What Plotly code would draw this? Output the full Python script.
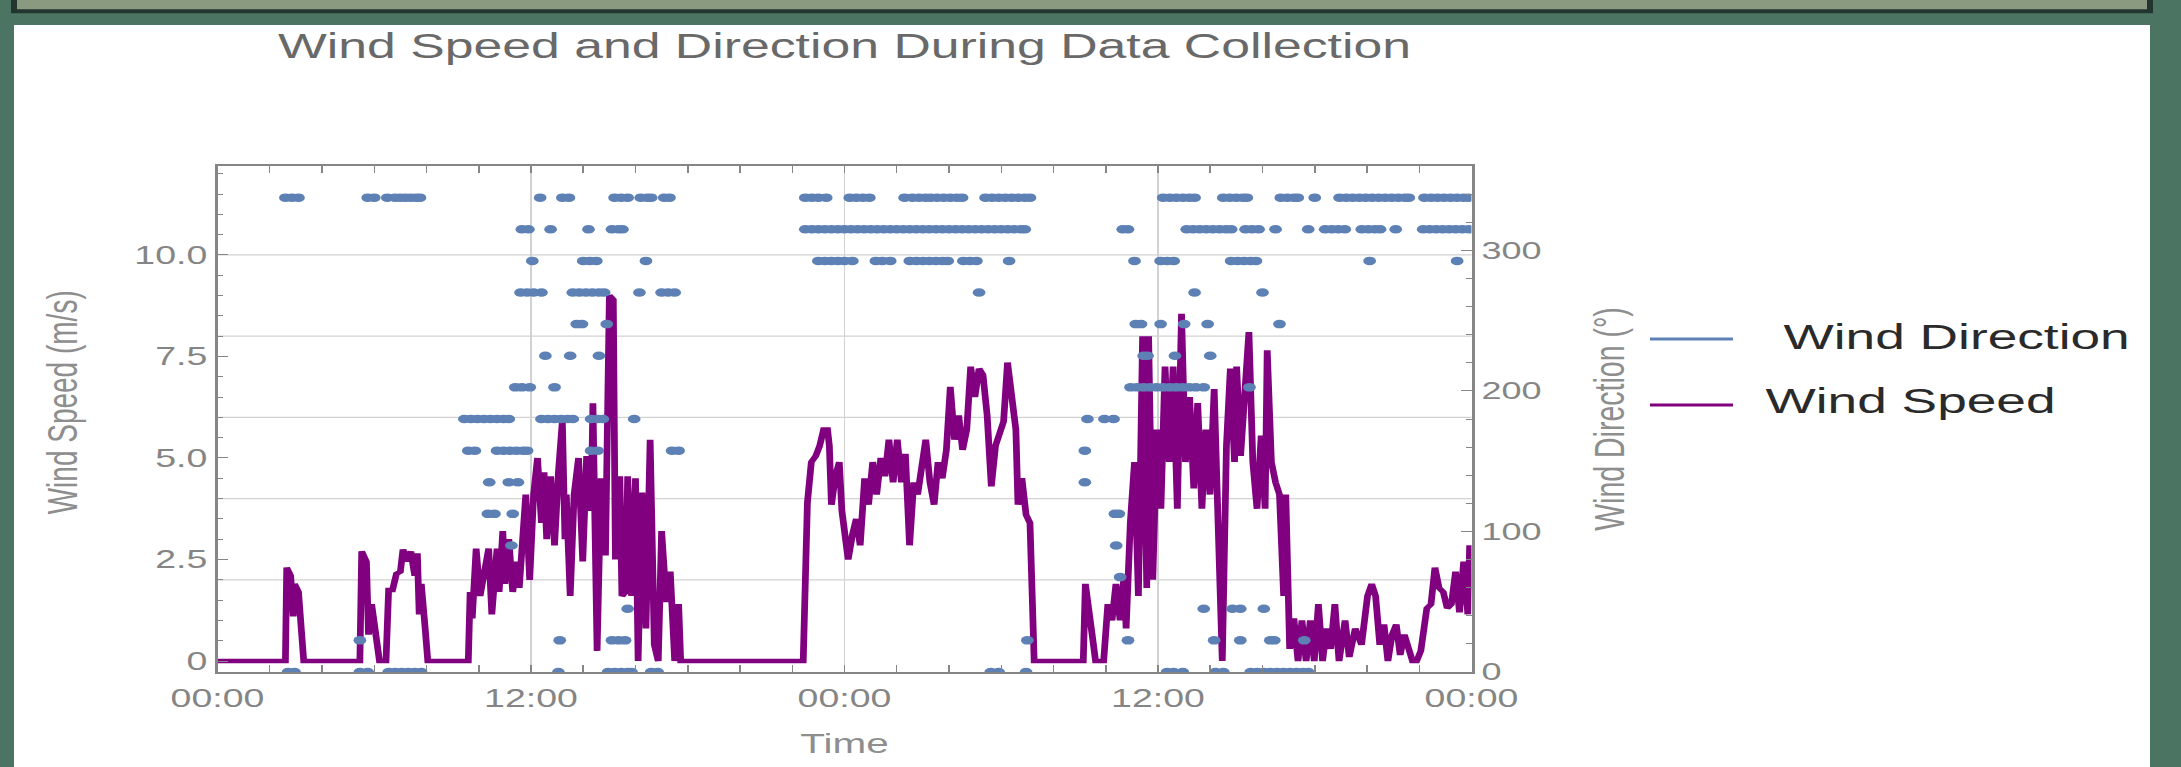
import plotly.graph_objects as go

# ---------------- data ----------------
x_tick_vals = [0, 12, 24, 36, 48]
x_tick_text = ["00:00", "12:00", "00:00", "12:00", "00:00"]
speed_tick_vals = [0, 2.5, 5, 7.5, 10]
speed_tick_text = ["0", "2.5", "5.0", "7.5", "10.0"]
dir_tick_vals = [0, 100, 200, 300]
speed_grid_vals = [2, 4, 6, 8, 10]
legend_names = ["Wind Direction", "Wind Speed"]

speed_hours = [0, 2.6, 2.65, 2.8, 2.9, 2.95, 3.1, 3.3, 5.45, 5.52, 5.7, 5.78, 5.9, 6.05, 6.2,
               6.45, 6.55, 6.7, 6.85, 7.0, 7.1, 7.25, 7.4, 7.55, 7.65, 7.72, 7.8, 7.95, 8.05,
               9.6, 9.67, 9.75, 9.9, 10.05, 10.2, 10.38, 10.5, 10.7, 10.78, 10.92, 11.0, 11.15,
               11.3, 11.45, 11.55, 11.7, 11.8, 11.95, 12.1, 12.25, 12.4, 12.5, 12.6, 12.75, 12.9,
               13.05, 13.2, 13.3, 13.35, 13.5, 13.65, 13.82, 13.98, 14.13, 14.3, 14.37, 14.53,
               14.68, 14.85, 15.0, 15.15, 15.23, 15.4, 15.48, 15.62, 15.7, 15.85, 16.0, 16.1,
               16.25, 16.4, 16.56, 16.72, 16.87, 17.0, 17.18, 17.33, 17.5, 17.65, 17.73,
               22.42, 22.58, 22.73, 22.9, 23.05, 23.2, 23.35, 23.42, 23.5, 23.65, 23.8, 23.9,
               24.14, 24.3, 24.45, 24.6, 24.77, 24.92, 25.08, 25.23, 25.39, 25.55, 25.7, 25.86,
               26.02, 26.18, 26.33, 26.49, 26.65, 26.8, 26.96, 27.11, 27.27, 27.43, 27.58, 27.74,
               27.9, 28.05, 28.21, 28.37, 28.52, 28.68, 28.83, 28.99, 29.15, 29.3, 29.46, 29.62,
               29.78, 29.93, 30.09, 30.24, 30.4, 30.56, 30.64, 30.79, 30.95, 31.1, 31.26,
               33.14, 33.22, 33.37, 33.53, 33.61, 33.92, 34.08, 34.24, 34.39, 34.55, 34.7, 34.78,
               34.94, 35.1, 35.25, 35.41, 35.57, 35.64, 35.8, 35.96, 36.11, 36.27, 36.43, 36.58,
               36.74, 36.9, 37.05, 37.21, 37.37, 37.52, 37.68, 37.83, 37.99, 38.15, 38.3, 38.46,
               38.62, 38.77, 38.93, 39.01, 39.16, 39.32, 39.48, 39.63, 39.79, 39.95, 40.1, 40.18,
               40.34, 40.5, 40.65, 40.81, 40.89, 41.04, 41.2, 41.36, 41.51, 41.67, 41.83, 41.98,
               42.14, 42.3, 42.45, 42.61, 42.77, 42.93, 43.16, 43.32, 43.55, 43.79, 44.02, 44.18,
               44.33, 44.49, 44.65, 44.8, 44.96, 45.12, 45.27, 45.43, 45.59, 45.74, 45.9, 46.06,
               46.29, 46.45, 46.6, 46.76, 46.92, 47.07, 47.23, 47.39, 47.54, 47.7, 47.86, 47.93]
speed_ms = [0, 0, 2.3, 2.1, 1.1, 1.9, 1.7, 0, 0, 2.7, 2.45, 0.65, 1.4, 0.8, 0,
            0, 1.75, 1.75, 2.15, 2.2, 2.75, 2.45, 2.7, 2.1, 2.65, 1.15, 1.9, 0.8, 0,
            0, 1.7, 1.05, 2.77, 1.6, 2.2, 2.77, 1.15, 2.77, 1.7, 3.2, 1.9, 3.0,
            1.7, 2.45, 1.8, 3.35, 4.1, 2.0, 4.1, 5.0, 3.4, 4.65, 3.0, 4.55, 2.85,
            4.65, 5.9, 3.0, 4.1, 1.6, 4.1, 5.0, 2.45, 5.05, 3.7, 6.35, 0.25,
            4.5, 2.6, 9.0, 8.9, 2.5, 4.55, 1.6, 1.7, 4.55, 1.6, 4.5, 0,
            4.15, 0.8, 5.45, 0.4, 0, 3.2, 1.45, 2.2, 0, 1.4, 0,
            0, 3.9, 4.9, 5.05, 5.3, 5.7, 5.7, 5.3, 3.85, 4.55, 4.9, 3.7,
            2.5, 3.1, 3.5, 2.85, 4.5, 3.85, 4.9, 4.1, 5.0, 4.55, 5.45, 4.4,
            5.45, 4.4, 5.1, 2.85, 4.4, 4.1, 4.9, 5.45, 4.4, 3.85, 4.9, 4.5,
            5.2, 6.75, 5.45, 6.05, 5.2, 5.7, 7.25, 6.5, 7.2, 7.05, 6.05, 4.3,
            5.3, 5.55, 5.9, 7.35, 6.35, 5.7, 3.85, 4.5, 3.6, 3.4, 0,
            0, 1.9, 1.0, 0.4, 0, 0, 1.4, 1.0, 1.9, 1.0, 2.1, 0.8,
            3.4, 4.9, 1.6, 8.0, 1.8, 8.0, 2.0, 5.7, 3.75, 7.25, 4.9, 7.25,
            3.75, 8.55, 4.9, 6.5, 4.25, 6.35, 3.75, 5.7, 4.1, 6.7, 3.4, 0,
            5.3, 7.2, 4.9, 7.25, 5.05, 6.95, 8.1, 4.9, 3.75, 5.55, 3.75, 7.65,
            4.9, 4.4, 4.1, 1.6, 4.1, 0.3, 1.05, 0, 1.0, 0, 1.0, 0,
            1.4, 0, 0.8, 0.3, 1.4, 0, 1.0, 0.1, 0.8, 0.4, 1.6, 1.9,
            1.6, 0.4, 0.9, 0, 0.65, 0.9, 0.15, 0.65, 0.25, 0, 0, 0.25,
            1.3, 1.4, 2.3, 1.8, 1.7, 1.3, 1.4, 2.2, 1.2, 2.45, 1.15, 2.85]

# wind direction samples: (direction in degrees, hours at which that direction was logged)
direction_rows = [
    (337.5, [2.6, 2.85, 3.1, 5.75, 6.0, 6.5, 6.8, 7.0, 7.2, 7.4, 7.6, 7.75, 12.35, 13.2, 13.45,
             15.2, 15.45, 15.7, 16.2, 16.45, 16.6, 17.1, 17.3, 22.5, 22.75, 23.0, 23.3, 24.2,
             24.45, 24.7, 24.95, 26.3, 26.6, 26.85, 27.1, 27.3, 27.55, 27.8, 28.05, 28.3, 28.5,
             29.4, 29.65, 29.9, 30.15, 30.4, 30.65, 30.9, 31.1, 36.2, 36.45, 36.7, 36.95, 37.2,
             37.4, 38.5, 38.75, 39.0, 39.25, 39.4, 40.7, 40.95, 41.2, 41.35, 42.0, 42.95, 43.2,
             43.45, 43.7, 43.95, 44.2, 44.45, 44.7, 44.95, 45.2, 45.45, 45.6, 46.2, 46.45, 46.7,
             46.95, 47.2, 47.45, 47.7, 47.9]),
    (315.0, [11.65, 11.9, 12.75, 14.2, 15.1, 15.35, 15.5, 22.5, 22.75, 23.0, 23.25, 23.5, 23.75,
             24.0, 24.25, 24.5, 24.75, 25.0, 25.25, 25.5, 25.75, 26.0, 26.25, 26.5, 26.75, 27.0,
             27.25, 27.5, 27.75, 28.0, 28.25, 28.5, 28.75, 29.0, 29.25, 29.5, 29.75, 30.0, 30.25,
             30.5, 30.75, 30.9, 34.65, 34.85, 37.1, 37.35, 37.6, 37.85, 38.1, 38.35, 38.6, 38.8,
             39.35, 39.6, 39.85, 40.5, 41.75, 42.4, 42.65, 42.9, 43.15, 43.8, 44.05, 44.3, 44.5,
             45.1, 46.15, 46.4, 46.65, 46.9, 47.15, 47.4, 47.65, 47.9]),
    (292.5, [12.05, 14.0, 14.25, 14.5, 16.4, 23.0, 23.25, 23.5, 23.75, 24.0, 24.3, 25.2, 25.45,
             25.75, 26.5, 26.75, 27.0, 27.25, 27.5, 27.75, 27.95, 28.55, 28.8, 29.05, 30.3, 35.1,
             36.1, 36.35, 36.6, 38.8, 39.05, 39.3, 39.55, 39.75, 44.1, 47.45]),
    (270.0, [11.6, 11.85, 12.1, 12.4, 13.6, 13.85, 14.1, 14.35, 14.6, 14.8, 16.15, 17.0, 17.25,
             17.5, 29.15, 37.4, 40.0]),
    (247.5, [13.75, 13.95, 14.9, 35.15, 35.35, 36.1, 37.0, 37.9, 40.65]),
    (225.0, [12.55, 13.5, 14.6, 35.45, 35.6, 36.65, 38.0]),
    (202.5, [11.4, 11.65, 11.95, 12.9, 34.95, 35.2, 35.45, 35.7, 35.95, 36.2, 36.45, 36.7,
             36.95, 37.2, 37.45, 37.75, 39.5]),
    (180.0, [9.45, 9.7, 9.95, 10.2, 10.45, 10.7, 10.95, 11.15, 12.4, 12.65, 12.9, 13.15, 13.4,
             13.6, 14.3, 14.55, 14.75, 15.95, 33.3, 33.95, 34.3]),
    (157.5, [9.6, 9.85, 10.7, 10.95, 11.2, 11.45, 11.7, 11.85, 14.3, 14.55, 17.4, 17.65, 33.2]),
    (135.0, [10.4, 11.15, 11.5, 33.2]),
    (112.5, [10.35, 10.6, 11.3, 34.35, 34.5]),
    (90.0, [11.25, 34.4]),
    (67.5, [34.55]),
    (45.0, [15.7, 37.75, 38.85, 39.15, 40.05]),
    (22.5, [5.45, 13.1, 15.1, 15.35, 15.6, 31.0, 34.85, 38.15, 39.15, 40.3, 40.45, 41.6]),
    (0.0, [2.7, 2.95, 5.45, 5.75, 6.55, 6.8, 7.05, 7.3, 7.55, 7.8, 13.05, 14.95, 15.2, 15.45,
           15.7, 15.85, 16.6, 16.85, 29.6, 29.9, 30.95, 36.35, 36.6, 36.95, 38.2, 38.5, 39.55,
           39.8, 40.05, 40.3, 40.55, 40.8, 41.05, 41.3, 41.55, 41.75]),
]

dir_hours = [h for deg, hours in direction_rows for h in hours]
dir_deg = [deg for deg, hours in direction_rows for h in hours]

# ---------------- layout geometry ----------------
S = 1.5                     # the reference image is stretched horizontally
FULL_W, H = 2181, 767
W = round(FULL_W / S)
ML, MR, MT, MB = 145, 473, 166, 95
PW, PH = W - ML - MR, H - MT - MB


def px(xf):   # full-image x pixel -> paper fraction
    return (xf / S - ML) / PW


def py(yf):   # full-image y pixel -> paper fraction
    return (H - MB - yf) / PH


FONT = "Liberation Sans, Arial, sans-serif"
GREEN = "#4b7463"
BLUE = "#5e81b5"
PURPLE = "#800080"
FRAME = "#868686"
GRID = "#d2d2d2"
TICKC = "#858585"
LABELC = "#8e8e8e"

fig = go.Figure()

fig.add_trace(go.Scatter(x=speed_hours, y=speed_ms, mode="lines", name=legend_names[1],
                         line=dict(color=PURPLE, width=4.5), showlegend=False))
fig.add_trace(go.Scatter(x=dir_hours, y=dir_deg, mode="markers", name=legend_names[0],
                         marker=dict(color=BLUE, size=8.5), showlegend=False, yaxis="y2"))

shapes = [
    dict(type="rect", xref="paper", yref="paper", x0=px(14), x1=px(2150), y0=py(780), y1=py(25),
         fillcolor="white", line=dict(width=0), layer="below"),
    dict(type="rect", xref="paper", yref="paper", x0=px(14), x1=px(2150), y0=py(11.3), y1=py(-10),
         fillcolor="#8a9a80", line=dict(color="#23352f", width=4), layer="below"),
]
for v in speed_grid_vals:
    shapes.append(dict(type="line", xref="paper", yref="y", x0=0, x1=1, y0=v, y1=v,
                       line=dict(color=GRID, width=1.3), layer="below"))

# legend (line samples + labels) placed like the reference
legend_rows = [(legend_names[0], BLUE, 339, 337, 1780), (legend_names[1], PURPLE, 405, 401, 1762)]
annotations = []
for name, col, yl, yt, xt in legend_rows:
    shapes.append(dict(type="line", xref="paper", yref="paper", x0=px(1650), x1=px(1733),
                       y0=py(yl), y1=py(yl), line=dict(color=col, width=3)))
    annotations.append(dict(text=name, xref="paper", yref="paper", x=px(xt),
                            y=py(yt), xanchor="left", yanchor="middle", showarrow=False,
                            font=dict(size=35.5, color="#2a2a2a", family=FONT)))

# left axis title (sits a little above the plot centre in the reference)
annotations.append(dict(text="Wind Speed (m/s)", xref="paper", yref="paper", x=px(62), y=py(402),
                        xanchor="center", yanchor="middle", textangle=-90, showarrow=False,
                        font=dict(size=28, color=LABELC, family=FONT)))

fig.update_layout(
    width=W, height=H,
    margin=dict(l=ML, r=MR, t=MT, b=MB, pad=0),
    paper_bgcolor=GREEN, plot_bgcolor="rgba(0,0,0,0)",
    font=dict(family=FONT, color=TICKC),
    title=dict(text="Wind Speed and Direction During Data Collection",
               font=dict(size=34.5, color="#696969", family=FONT),
               x=0.5, xref="paper", xanchor="center",
               y=1 - 46 / H, yref="container", yanchor="middle"),
    showlegend=False,
    shapes=shapes,
    annotations=annotations,
    xaxis=dict(range=[0, 48], tickmode="array", tickvals=x_tick_vals, ticktext=x_tick_text,
               ticks="inside", ticklen=7, tickwidth=1.3, tickcolor=FRAME,
               minor=dict(dtick=2, tick0=0, ticks="inside", ticklen=4, tickcolor=FRAME,
                          showgrid=False),
               showline=True, linecolor=FRAME, linewidth=1.6, mirror="allticks",
               showgrid=True, gridcolor=GRID, gridwidth=1.3, zeroline=False,
               tickfont=dict(size=25, color=TICKC), ticklabelstandoff=3,
               title=dict(text="Time", font=dict(size=27, color=LABELC), standoff=23)),
    yaxis=dict(range=[-0.27, 12.19], tickmode="array", tickvals=speed_tick_vals,
               ticktext=speed_tick_text,
               ticks="inside", ticklen=7, tickwidth=1.3, tickcolor=FRAME,
               minor=dict(dtick=0.5, tick0=0, ticks="inside", ticklen=4, tickcolor=FRAME,
                          showgrid=False),
               showline=True, linecolor=FRAME, linewidth=1.6, mirror=False,
               showgrid=False, zeroline=False,
               tickfont=dict(size=25, color=TICKC)),
    yaxis2=dict(range=[0, 360], overlaying="y", side="right", tickmode="array",
                tickvals=dir_tick_vals,
                ticks="inside", ticklen=7, tickwidth=1.3, tickcolor=FRAME,
                minor=dict(dtick=20, tick0=0, ticks="inside", ticklen=4, tickcolor=FRAME,
                           showgrid=False),
                showline=True, linecolor=FRAME, linewidth=1.6,
                showgrid=False, zeroline=False,
                tickfont=dict(size=24, color=TICKC),
                title=dict(text="Wind Direction (°)", font=dict(size=28.5, color=LABELC),
                           standoff=36)),
)

post_js = """
var gd = document.getElementById('{plot_id}');
document.documentElement.style.margin = '0';
document.body.style.margin = '0';
document.body.style.overflow = 'hidden';
document.body.style.background = '%s';
gd.style.transformOrigin = '0 0';
gd.style.transform = 'scaleX(%s)';
""" % (GREEN, S)

fig.write_html("out.html", post_script=post_js, config={"displayModeBar": False})
